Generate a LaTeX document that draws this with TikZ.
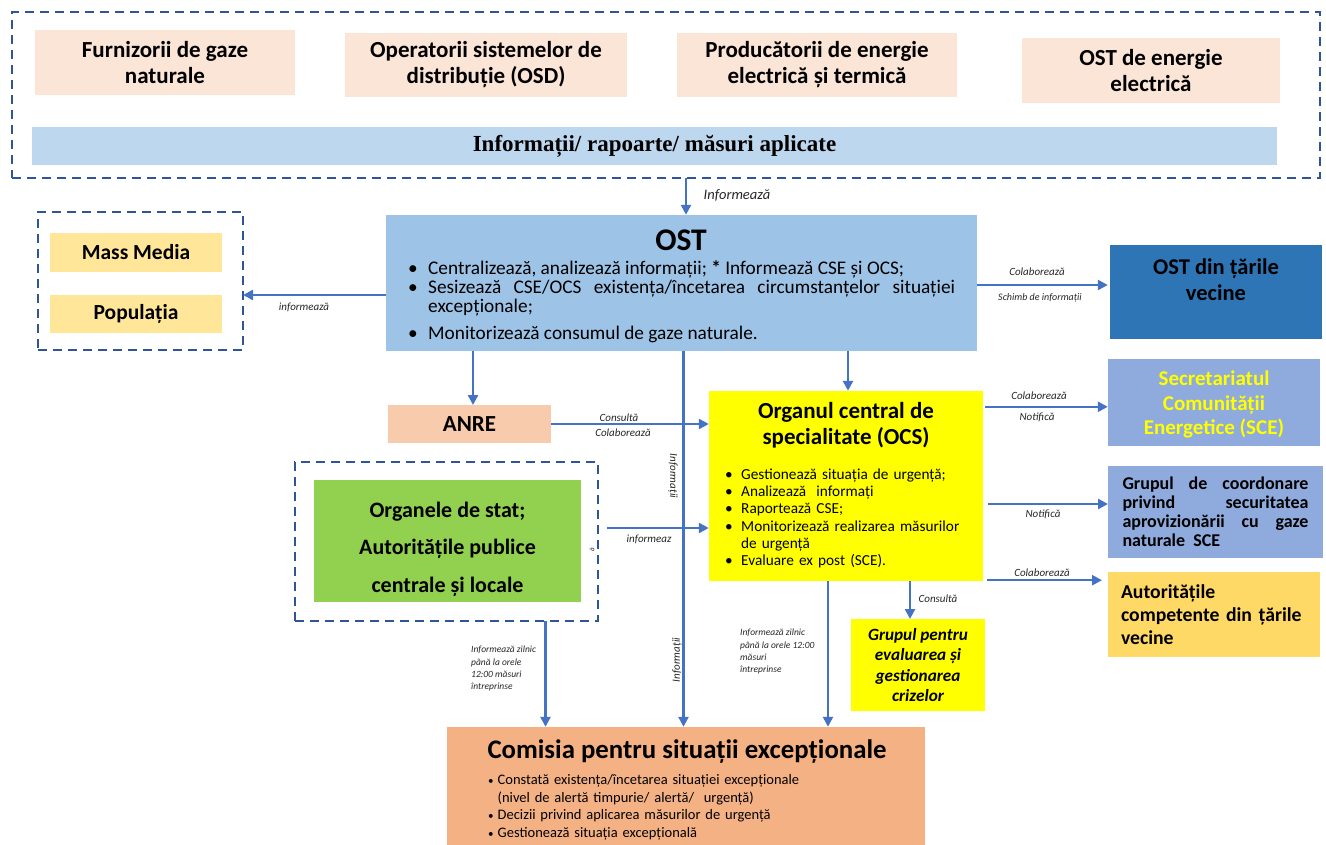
\documentclass[tikz,border=0pt]{standalone}
\usepackage{fontspec}
\setmainfont{Carlito}
\newfontfamily\serifb{Liberation Serif}
\usetikzlibrary{arrows.meta,calc}
\definecolor{peach}{HTML}{FBE5D6}
\definecolor{barblue}{HTML}{BDD7EE}
\definecolor{mmyellow}{HTML}{FFE699}
\definecolor{ostblue}{HTML}{9DC3E6}
\definecolor{darkblue}{HTML}{2E75B6}
\definecolor{anreor}{HTML}{F8CBAD}
\definecolor{ocsyellow}{HTML}{FFFF00}
\definecolor{green}{HTML}{92D050}
\definecolor{sceblue}{HTML}{8FAADC}
\definecolor{acgold}{HTML}{FFD966}
\definecolor{comor}{HTML}{F4B183}
\definecolor{arrblue}{HTML}{4472C4}
\definecolor{dashblue}{HTML}{2F5597}
\newcommand\bitem[2]{\par\noindent\hangindent=#1\hangafter=1\makebox[#1][l]{\textbullet}#2}
\newcommand\sitem[2]{\par\noindent\hangindent=#1\hangafter=1\makebox[#1][l]{{\fontsize{11}{11}\selectfont\textbullet}}#2}
\begin{document}
\begin{tikzpicture}[x=1pt,y=-1pt,
  fbox/.style={inner sep=0pt, outer sep=0pt, align=center, text=black, font=\bfseries\fontsize{23}{26}\selectfont},
  dbox/.style={draw=dashblue, line width=2.5pt, dash pattern=on 9pt off 6pt, inner sep=0pt, outer sep=0pt},
  arr/.style={draw=arrblue, line width=2.4pt, -{Triangle[length=10pt,width=10pt]}},
  lab/.style={font=\itshape\fontsize{11}{12}\selectfont, inner sep=0pt, text=black!85},
  tiny/.style={font=\itshape\fontsize{9.5}{12.3}\selectfont, inner sep=0pt, text=black!85, align=left}]
\useasboundingbox (0,0) rectangle (1326,845);

% top group
\node[dbox, minimum width=1308pt, minimum height=166pt] (top) at (666,95) {};
\node[fbox, fill=peach, minimum width=260pt, minimum height=65pt] (furn) at (165,62.5) {Furnizorii de gaze\\naturale};
\node[fbox, fill=peach, minimum width=282pt, minimum height=64pt] (osd) at (486,65) {Operatorii sistemelor de\\distribuție (OSD)};
\node[fbox, fill=peach, minimum width=280pt, minimum height=64pt] (prod) at (817,65) {Producătorii de energie\\electrică și termică};
\node[fbox, fill=peach, minimum width=258pt, minimum height=65pt] (oste) at (1151,70.5) {OST de energie\\electrică};
\node[fbox, fill=barblue, minimum width=1245pt, minimum height=38pt, font=\serifb\bfseries\fontsize{23}{26}\selectfont] (bar) at (654.5,146) {Informații/ rapoarte/ măsuri aplicate};

% OST
\node[fill=ostblue, minimum width=591pt, minimum height=136pt, inner sep=0pt] (ost) at (681.5,283) {};
\node[font=\bfseries\fontsize{31.5}{34}\selectfont, inner sep=0pt] (osttitle) at (681,240) {OST};
\node[anchor=north west, inner sep=0pt, text width=547pt, align=justify, font=\fontsize{19.3}{19}\selectfont] (ostlist) at (408,255)
 {\bitem{20pt}{Centralizează, analizează informații; \textbf{*} Informează CSE și OCS;}\bitem{20pt}{Sesizează CSE/OCS existența/încetarea circumstanțelor situației\linebreak excepționale;}\par\vspace{8pt}\bitem{20pt}{Monitorizează consumul de gaze naturale.}};

% left group
\node[dbox, minimum width=205pt, minimum height=138pt] (mm) at (140.5,281) {};
\node[fbox, fill=mmyellow, minimum width=172pt, minimum height=39pt, font=\bfseries\fontsize{21.5}{24}\selectfont] (media) at (136,252.5) {Mass Media};
\node[fbox, fill=mmyellow, minimum width=172pt, minimum height=38pt, font=\bfseries\fontsize{21.5}{24}\selectfont] (pop) at (136,314) {Populația};

% right boxes
\node[fill=darkblue, minimum width=212pt, minimum height=94pt, inner sep=0pt] (ostv) at (1216,292) {};
\node[fbox, font=\bfseries\fontsize{22.5}{26}\selectfont] (ostvt) at (1216,280) {OST din țările\\vecine};
\node[fill=sceblue, minimum width=212pt, minimum height=87pt, inner sep=0pt] (sce) at (1214,402.5) {};
\node[fbox, text=ocsyellow, font=\bfseries\fontsize{21}{24.5}\selectfont] (scet) at (1214,404.5) {Secretariatul\\Comunității\\Energetice (SCE)};
\node[fbox, fill=sceblue, minimum width=215pt, minimum height=92pt, text width=186pt, align=justify, font=\bfseries\fontsize{18}{19}\selectfont] (gc) at (1215.5,512) {Grupul de coordonare\linebreak privind securitatea\linebreak aprovizionării cu gaze\linebreak naturale~ SCE};
\node[fbox, fill=acgold, minimum width=212pt, minimum height=85pt, text width=186pt, align=left, font=\bfseries\fontsize{19.7}{22.7}\selectfont] (ac) at (1214,614.5) {Autoritățile\\competente din țările\\vecine};

% ANRE, OCS
\node[fbox, fill=anreor, minimum width=163pt, minimum height=38pt, font=\bfseries\fontsize{23}{26}\selectfont] (anre) at (469.5,424) {ANRE};
\node[fill=ocsyellow, minimum width=274pt, minimum height=190pt, inner sep=0pt] (ocs) at (846,486) {};
\node[fbox, font=\bfseries\fontsize{23}{26.5}\selectfont] (ocstitle) at (846,425) {Organul central de\\specialitate (OCS)};
\node[anchor=north west, inner sep=0pt, text width=250pt, align=left, font=\fontsize{15.3}{17.2}\selectfont] (ocslist) at (725,462)
 {\bitem{16pt}{Gestionează situația de urgență;}\bitem{16pt}{Analizează~ informați}\bitem{16pt}{Raportează CSE;}\bitem{16pt}{Monitorizează realizarea măsurilor\newline de urgență}\bitem{16pt}{Evaluare ex post (SCE).}};

% green group
\node[dbox, minimum width=303pt, minimum height=159pt] (gd) at (446.5,541.5) {};
\node[fill=green, minimum width=267pt, minimum height=122pt, inner sep=0pt] (stat) at (447.5,540.5) {};
\node[fbox, font=\bfseries\fontsize{22}{37.5}\selectfont] (statt) at (447.5,549) {Organele de stat;\\Autoritățile publice\\centrale și locale};

% crisis group
\node[fbox, fill=ocsyellow, minimum width=134pt, minimum height=92pt, font=\bfseries\itshape\fontsize{17.2}{20.3}\selectfont] (grev) at (918,665) {Grupul pentru\\evaluarea și\\gestionarea\\crizelor};

% Comisia
\node[fill=comor, minimum width=478pt, minimum height=118pt, inner sep=0pt] (com) at (686,786) {};
\node[font=\bfseries\fontsize{26.8}{30}\selectfont, inner sep=0pt] (comtitle) at (687,752) {Comisia pentru situații excepționale};
\node[anchor=north west, inner sep=0pt, text width=420pt, align=left, font=\fontsize{14.5}{17.5}\selectfont] (comlist) at (488,767)
 {\sitem{9.5pt}{Constată existența/încetarea situației excepționale\newline(nivel de alertă timpurie/ alertă/~ urgență)}\sitem{9.5pt}{Decizii privind aplicarea măsurilor de urgență}\sitem{9.5pt}{Gestionează situația excepțională}};

% helper coordinates
\coordinate (c1) at ([xshift=4.5pt]top.south -| ost.north);
\coordinate (c2) at ([yshift=-12pt]ost.west);
\coordinate (c3) at ([yshift=-2pt]ost.east);
\coordinate (c4) at ([xshift=3.5pt]anre.north |- ost.south);
\coordinate (c5) at ([xshift=2pt]ocs.north |- ost.south);
\coordinate (c6) at ([xshift=2pt]ost.south);
\coordinate (c7) at ([xshift=9pt,yshift=13.5pt]gd.east);
\coordinate (c8) at ([xshift=99pt]gd.south);
\coordinate (c9) at ([xshift=-18pt]ocs.south);
\coordinate (c10) at ([xshift=64pt]ocs.south);
\coordinate (c11) at ([xshift=2pt,yshift=-16pt]ocs.north east);
\coordinate (c12) at ([xshift=5pt,yshift=-18pt]ocs.east);
\coordinate (c13) at ([xshift=4pt,yshift=1pt]ocs.south east);

% connectors
\draw[arr] (c1) -- (c1 |- ost.north);
\draw[arr] (c2) -- (c2 -| mm.east);
\draw[arr, shorten >=2pt] (c3) -- (c3 -| ostv.west);
\draw[arr] (c4) -- (c4 |- anre.north);
\draw[arr] (c5) -- (c5 |- ocs.north);
\draw[arr] (c6) -- (c6 |- com.north);
\draw[arr] (anre.east) -- (anre.east -| ocs.west);
\draw[arr] (c7) -- (c7 -| ocs.west);
\draw[arr] (c8) -- (c8 |- com.north);
\draw[arr] (c9) -- (c9 |- com.north);
\draw[arr] (c10) -- (c10 |- grev.north);
\draw[arr] (c11) -- (c11 -| sce.west);
\draw[arr] (c12) -- (c12 -| gc.west);
\draw[arr, shorten >=6pt] (c13) -- (c13 -| ac.west);

% labels
\node[lab, font=\itshape\fontsize{14.5}{16}\selectfont] (l1) at (737,195) {Informează};
\node[lab] (l2) at (304,307) {informează};
\node[lab] (l3) at (1037,272) {Colaborează};
\node[lab, font=\itshape\fontsize{10}{11}\selectfont] (l4) at (1040,298) {Schimb de informații};
\node[lab] (l5) at (619,418) {Consultă};
\node[lab] (l6) at (623,433) {Colaborează};
\node[lab, rotate=-90] (l7) at (673,476) {Informații};
\node[lab] (l8) at (649,539) {informeaz};
\node[lab, font=\itshape\fontsize{7}{8}\selectfont, rotate=90] (l9) at (592,550) {ă};
\node[lab, rotate=90] (l10) at (677,660) {Informații};
\node[tiny, anchor=north west] (l11) at (471,646) {Informează zilnic\\până la orele\\12:00 măsuri\\întreprinse};
\node[tiny, anchor=north west] (l12) at (740,629) {Informează zilnic\\până la orele 12:00\\măsuri\\întreprinse};
\node[lab] (l13) at (938,599) {Consultă};
\node[lab] (l14) at (1039,396) {Colaborează};
\node[lab] (l15) at (1037,417) {Notifică};
\node[lab] (l16) at (1043,514) {Notifică};
\node[lab] (l17) at (1042,573) {Colaborează};
\end{tikzpicture}
\end{document}
